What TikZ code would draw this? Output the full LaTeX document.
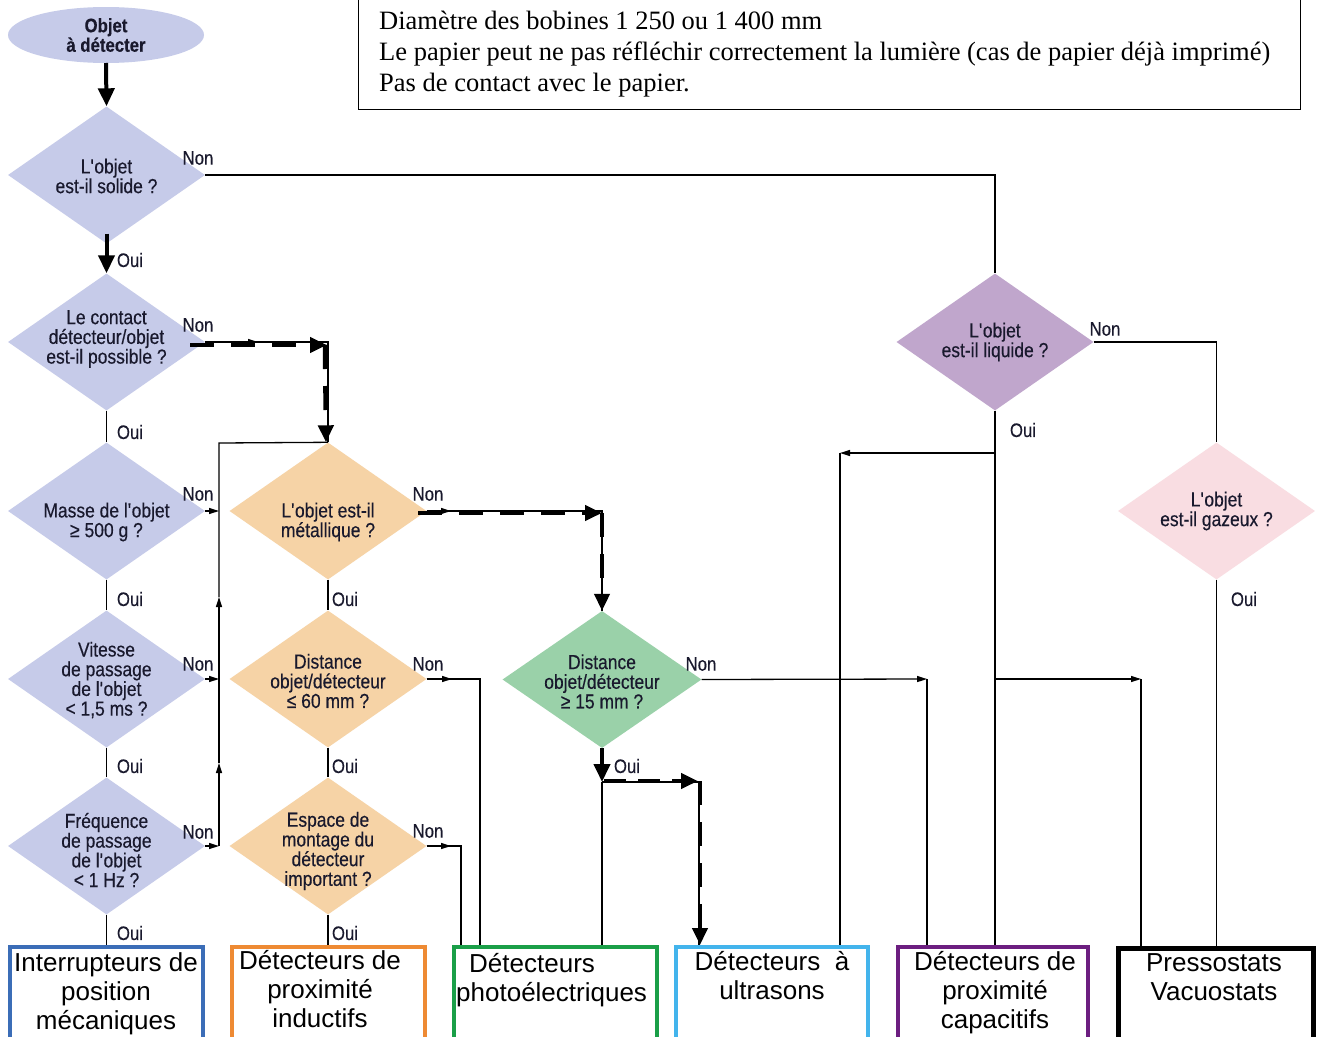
\documentclass[tikz,border=0pt]{standalone}
\usepackage{fontspec}
\setmainfont{Liberation Serif}
\newfontfamily\condfont[FakeStretch=0.86,FakeBold=0.35]{Liberation Sans}
\newfontfamily\boxfont{Liberation Sans}
\usetikzlibrary{shapes.geometric,arrows.meta}
\definecolor{lav}{RGB}{198,203,233}
\definecolor{ora}{RGB}{246,211,166}
\definecolor{grn}{RGB}{154,209,169}
\definecolor{pur}{RGB}{192,166,204}
\definecolor{pnk}{RGB}{249,221,226}
\definecolor{txt}{RGB}{25,25,45}
\definecolor{bblue}{RGB}{59,109,183}
\definecolor{bora}{RGB}{238,138,51}
\definecolor{bgrn}{RGB}{26,159,72}
\definecolor{bcyan}{RGB}{67,180,236}
\definecolor{bpur}{RGB}{108,30,128}
\newcommand\myap{\textquotesingle}
\tikzset{
  dtext/.style={font=\condfont\fontsize{20.3}{19.7}\selectfont, align=center, text=txt, inner sep=0pt},
  lbl/.style={font=\condfont\fontsize{19.5}{19.5}\selectfont, text=txt, inner sep=0pt},
  dia/.style={diamond, draw=none, minimum width=197pt, minimum height=137pt, inner sep=0pt},
  conn/.style={line width=1.3pt, draw=black},
  smarrow/.style={-{Triangle[length=10pt,width=6pt]}},
  fat/.style={line width=4pt, draw=black, -{Triangle[length=18pt,width=16pt]}},
  fatdash/.style={line width=4.5pt, draw=black, dash pattern=on 24pt off 17pt, -{Triangle[length=17pt,width=15pt]}},
  outbox/.style={draw, line width=4pt, anchor=north, minimum height=130pt, inner sep=0pt},
  btext/.style={font=\boxfont\fontsize{26}{29}\selectfont, align=center, anchor=north, inner sep=0pt, text=black},
}
\begin{document}
\begin{tikzpicture}[x=1pt,y=-1pt]
\fill[white] (0,0) rectangle (1319,1036);
\useasboundingbox (0,0) rectangle (1319,1036);

% top text box
\node[draw, line width=1.3pt, anchor=south west, minimum width=942pt, minimum height=130pt, inner sep=0pt] (TB) at (358,110) {};
\node[anchor=north west, inner sep=0pt, align=left, font=\fontsize{26.5}{31}\selectfont] (TBt) at (379,11)
 {Diamètre des bobines 1 250 ou 1 400 mm\\Le papier peut ne pas réfléchir correctement la lumière (cas de papier déjà imprimé)\\Pas de contact avec le papier.};

% start
\node[ellipse, fill=lav, minimum width=196pt, minimum height=56pt, inner sep=0pt,
  label={[dtext, font=\condfont\bfseries\fontsize{19.5}{19.5}\selectfont]center:{Objet\\à détecter}}] (E) at (106,35) {};

% left column
\node[dia, fill=lav, label={[dtext, yshift=-1pt]center:{L\myap objet\\est-il solide ?}}] (D1) at (106.5,175) {};
\node[dia, fill=lav, label={[dtext, yshift=3pt]center:{Le contact\\détecteur/objet\\est-il possible ?}}] (D2) at (106.5,342) {};
\node[dia, fill=lav, label={[dtext, yshift=-11pt]center:{Masse de l\myap objet\\≥ 500 g ?}}] (D3) at (106.5,511) {};
\node[dia, fill=lav, label={[dtext, yshift=-1pt]center:{Vitesse\\de passage\\de l\myap objet\\< 1,5 ms ?}}] (D4) at (106.5,679) {};
\node[dia, fill=lav, label={[dtext, yshift=-4pt]center:{Fréquence\\de passage\\de l\myap objet\\< 1 Hz ?}}] (D5) at (106.5,846) {};

% orange column
\node[dia, fill=ora, label={[dtext, yshift=-11pt]center:{L\myap objet est-il\\métallique ?}}] (O1) at (328,511) {};
\node[dia, fill=ora, label={[dtext, yshift=-2pt]center:{Distance\\objet/détecteur\\≤ 60 mm ?}}] (O2) at (328,679) {};
\node[dia, fill=ora, label={[dtext, yshift=-5pt]center:{Espace de\\montage du\\détecteur\\important ?}}] (O3) at (328,846) {};

% green
\node[dia, fill=grn, minimum width=199pt, label={[dtext, yshift=-2pt]center:{Distance\\objet/détecteur\\≥ 15 mm ?}}] (G) at (602,679.5) {};

% purple & pink
\node[dia, fill=pur, label={[dtext]center:{L\myap objet\\est-il liquide ?}}] (P) at (995,342) {};
\node[dia, fill=pnk, label={[dtext]center:{L\myap objet\\est-il gazeux ?}}] (K) at (1216.5,511) {};

% output boxes
\node[outbox, draw=bblue, minimum width=193pt] (B1) at (106.5,945) {};
\node[outbox, draw=bora, minimum width=193pt] (B2) at (328.5,945) {};
\node[outbox, draw=bgrn, minimum width=203pt] (B3) at (555.5,945) {};
\node[outbox, draw=bcyan, minimum width=192pt] (B4) at (772,945) {};
\node[outbox, draw=bpur, minimum width=190pt] (B5) at (993,945) {};
\node[outbox, draw=black, line width=5pt, minimum width=195pt] (B6) at (1216,945.5) {};

\node[btext] (T1) at (106,952) {Interrupteurs de\\position\\mécaniques};
\node[btext] (T2) at (320,950) {Détecteurs de\\proximité\\inductifs};
\node[btext, align=left, anchor=north west] (T3) at (456,953) {\hspace*{13pt}Détecteurs\\photoélectriques};
\node[btext] (T4) at (772,951) {Détecteurs\ \ à\\ultrasons};
\node[btext] (T5) at (995,951) {Détecteurs de\\proximité\\capacitifs};
\node[btext] (T6) at (1214,953) {Pressostats\\Vacuostats};

% coordinates
\coordinate (c1) at (995,175);
\coordinate (c2) at (328,342);
\coordinate (d2a) at (190,345);
\coordinate (d2b) at (327,345);
\coordinate (d2m) at (258,342);
\coordinate (c3) at (602,511);
\coordinate (o1a) at (418,513);
\coordinate (o1b) at (602,513);
\coordinate (o1m) at (451,511);
\coordinate (bus3) at (219,511);
\coordinate (bus4) at (219,679);
\coordinate (bus5) at (219,846);
\coordinate (busu1) at (219,763);
\coordinate (busu2) at (219,597);
\coordinate (bustop) at (219,443);
\coordinate (o2c) at (480,679);
\coordinate (o2m) at (452,679);
\coordinate (o3c) at (461,846);
\coordinate (o3m) at (451,846);
\coordinate (gnc) at (927,679);
\coordinate (gc) at (602,782);
\coordinate (gd) at (699,782);
\coordinate (gda) at (604,781);
\coordinate (gdb) at (698,781);
\coordinate (gdc) at (700,781);
\coordinate (pl) at (995,453);
\coordinate (plc) at (840,453);
\coordinate (pr) at (995,679);
\coordinate (prc) at (1141,679);
\coordinate (pnc) at (1216.5,342);

% main thick arrows
\draw[fat] ([yshift=-28pt]E.center) -- (D1.north);
\draw[fat] ([yshift=10pt]D1.south) -- (D2.north);

% D1 non
\draw[conn] (D1.east) -- (c1) -- (P.north);

% left column oui
\draw[conn] (D2.south) -- (D3.north);
\draw[conn] (D3.south) -- (D4.north);
\draw[conn] (D4.south) -- (D5.north);
\draw[conn] (D5.south) -- (B1.north);

% orange column oui
\draw[conn] (O1.south) -- (O2.north);
\draw[conn] (O2.south) -- (O3.north);
\draw[conn] (O3.south) -- (O2.south |- B2.north);

% D2 non
\draw[conn] (D2.east) -- (c2) -- (O1.north);
\draw[conn, smarrow] (D2.east) -- (d2m);
\draw[fatdash] (d2a) -- (d2b);
\draw[fatdash] ([xshift=-2pt]d2b) -- ([xshift=-2pt]O1.north);

% bus left
\draw[conn, smarrow] (D3.east) -- (bus3);
\draw[conn, smarrow] (D4.east) -- (bus4);
\draw[conn, smarrow] (D5.east) -- (bus5);
\draw[conn, smarrow] (bus5) -- (busu1);
\draw[conn, smarrow] (busu1) -- (busu2);
\draw[conn] (busu2) -- (bustop) -- (O1.north);

% O1 non
\draw[conn] (O1.east) -- (c3) -- (G.north);
\draw[conn, smarrow] (O1.east) -- (o1m);
\draw[fatdash] (o1a) -- (o1b);
\draw[fatdash] (o1b) -- (G.north);

% O2 / O3 non
\draw[conn] (O2.east) -- (o2c) -- (o2c |- B3.north);
\draw[conn, smarrow] (O2.east) -- (o2m);
\draw[conn] (O3.east) -- (o3c) -- (o3c |- B3.north);
\draw[conn, smarrow] (O3.east) -- (o3m);

% G non
\draw[conn, smarrow] (G.east) -- (gnc);
\draw[conn] (gnc) -- (gnc |- B5.north);

% G oui
\draw[fat] (G.south) -- (gc);
\draw[conn] (gc) -- (gc |- B3.north);
\draw[conn] (gc) -- (gd) -- (gd |- B4.north);
\draw[fatdash, dash pattern=on 22pt off 12pt] (gda) -- (gdb);
\draw[fatdash] (gdc) -- (gdc |- B4.north);

% P oui
\draw[conn] (P.south) -- (P.south |- B5.north);
\draw[conn, smarrow] (pl) -- (plc);
\draw[conn] (plc) -- (plc |- B4.north);
\draw[conn, smarrow] (pr) -- (prc);
\draw[conn] (prc) -- (prc |- B6.north);

% P non
\draw[conn] (P.east) -- (pnc) -- (K.north);
% K oui
\draw[conn] (K.south) -- (K.south |- B6.north);

% labels
\node[lbl] (n1) at (198,158) {Non};
\node[lbl] (n2) at (198,325) {Non};
\node[lbl] (n3) at (198,494) {Non};
\node[lbl] (n4) at (198,664) {Non};
\node[lbl] (n5) at (198,832) {Non};
\node[lbl] (n6) at (428,494) {Non};
\node[lbl] (n7) at (428,664) {Non};
\node[lbl] (n8) at (428,831) {Non};
\node[lbl] (n9) at (701,664) {Non};
\node[lbl] (n10) at (1105,329) {Non};
\node[lbl] (y1) at (130,260) {Oui};
\node[lbl] (y2) at (130,432) {Oui};
\node[lbl] (y3) at (130,599) {Oui};
\node[lbl] (y4) at (130,766) {Oui};
\node[lbl] (y5) at (130,933) {Oui};
\node[lbl] (y6) at (345,599) {Oui};
\node[lbl] (y7) at (345,766) {Oui};
\node[lbl] (y8) at (345,933) {Oui};
\node[lbl] (y9) at (627,766) {Oui};
\node[lbl] (y10) at (1023,430) {Oui};
\node[lbl] (y11) at (1244,599) {Oui};
\end{tikzpicture}
\end{document}
